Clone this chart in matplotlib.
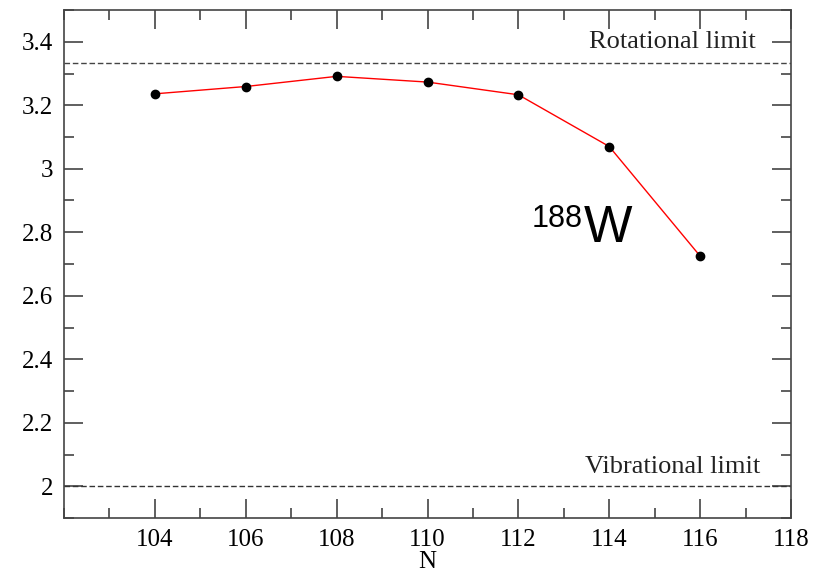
import matplotlib.pyplot as plt
from matplotlib.ticker import MultipleLocator

# ==========================
# Data
# ==========================

neutrons = [104, 106, 108, 110, 112, 114, 116]
ratio = [3.236, 3.259, 3.291, 3.273, 3.233, 3.070, 2.725]

rot_limit = 10 / 3
vib_limit = 2.0

# ==========================
# Plot
# ==========================

plt.rcParams["font.family"] = ["Liberation Serif", "DejaVu Serif"]

fig = plt.figure(figsize=(8.16, 5.76), dpi=100)
ax = fig.add_axes([64 / 816, 58 / 576, 727 / 816, 508 / 576])

ax.axhline(rot_limit, color="#444444", lw=1.0, ls=(0, (4, 2)))
ax.axhline(vib_limit, color="#333333", lw=1.0, ls=(0, (4, 2)))

ax.plot(neutrons, ratio, color="red", lw=1.0, zorder=3)
ax.plot(neutrons, ratio, "o", color="black", ms=6, zorder=4)

ax.text(117.23, rot_limit + 0.03, "Rotational limit", ha="right",
        va="bottom", fontsize=19, color="#222222")
ax.text(117.32, vib_limit + 0.025, "Vibrational limit", ha="right",
        va="bottom", fontsize=19, color="#222222")

ax.text(112.29, 2.815, "188", fontsize=22, family="Liberation Sans",
        ha="left", va="baseline")
ax.text(113.45, 2.768, "W", fontsize=37, family="Liberation Sans",
        ha="left", va="baseline")

ax.set_xlim(102, 118)
ax.set_ylim(1.9, 3.5)

ax.xaxis.set_minor_locator(MultipleLocator(1))
ax.yaxis.set_minor_locator(MultipleLocator(0.1))

ax.set_xticks(range(104, 119, 2))
ax.set_xticklabels([str(v) for v in range(104, 119, 2)])
ax.set_yticks([2.0, 2.2, 2.4, 2.6, 2.8, 3.0, 3.2, 3.4])
ax.set_yticklabels(["2", "2.2", "2.4", "2.6", "2.8", "3", "3.2", "3.4"])

ax.tick_params(which="both", direction="in", top=True, right=True,
               color="#444444", labelsize=18, width=1.2)
ax.tick_params(which="major", length=14, pad=8)
ax.tick_params(which="minor", length=7)

for s in ax.spines.values():
    s.set_color("#444444")
    s.set_linewidth(1.2)

ax.set_xlabel("N", fontsize=18, labelpad=0)

fig.savefig("out.png", dpi=100)
